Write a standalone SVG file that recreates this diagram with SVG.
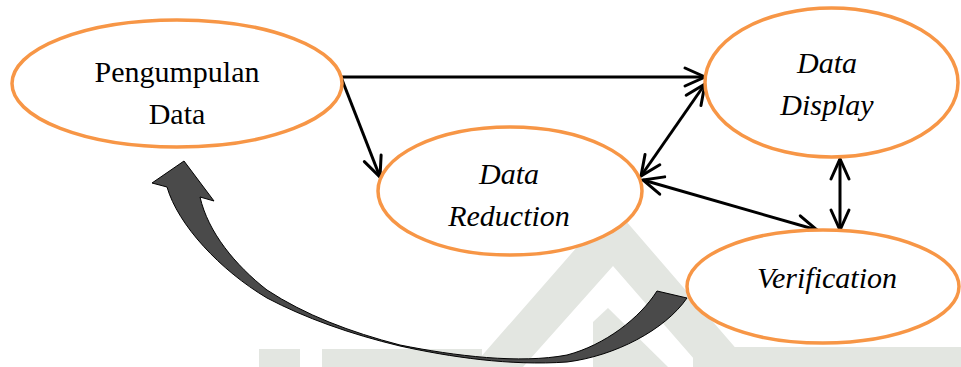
<svg xmlns="http://www.w3.org/2000/svg" width="961" height="367" viewBox="0 0 961 367">
  <style>
    .node { fill: #ffffff; stroke: #f79646; stroke-width: 3.5; }
    .label { font-family: 'Liberation Serif', 'Times New Roman', 'DejaVu Serif', serif; font-size: 30px; fill: #000000; text-anchor: middle; }
    .it { font-style: italic; }
    .link { fill: none; stroke: #000000; stroke-width: 3; }
    .mark { fill: #e3e6e1; stroke: none; }
    .cycle { fill: #4a4a4a; stroke: #000000; stroke-width: 1; stroke-linejoin: miter; }
  </style>
  <defs>
    <!-- open V arrowhead shared by every connector end -->
    <marker id="head" markerUnits="userSpaceOnUse" markerWidth="30" markerHeight="30" refX="22" refY="10" orient="auto-start-reverse" viewBox="0 0 30 20">
      <path d="M2,1 L22,10 L2,19" fill="none" stroke="#000000" stroke-width="3" stroke-linecap="round" stroke-linejoin="miter"/>
    </marker>
  </defs>

  <rect width="961" height="367" fill="#ffffff"/>

  <!-- faint background emblem -->
  <g id="emblem">
    <rect class="mark" x="259" y="349" width="41" height="18"/>
    <rect class="mark" x="322" y="349" width="160" height="18"/>
    <polygon class="mark" points="472,367 613,206 752,367 701,367 613,266 523,367"/>
    <polygon class="mark" points="593,367 593,322 608,308 668,367"/>
    <rect class="mark" x="693" y="347" width="268" height="20"/>
  </g>

  <!-- feedback arrow from Verification back to Pengumpulan Data -->
  <g id="cycle-arrow">
    <path class="cycle" d="M657,291 C640,318 605,345 567,355 C520,364 455,356 400,345 C350,332 305,315 267,290 C235,265 208,232 200,197 L214,201 L184,161 L152,183 L167,187 C178,225 220,270 267,298 C305,318 350,334 400,346 C450,357 510,366 567,362 C615,356 665,330 687,298 Z"/>
  </g>

  <!-- connectors -->
  <g id="connectors">
    <line class="link" x1="341" y1="77" x2="705" y2="77" marker-end="url(#head)"/>
    <line class="link" x1="341" y1="77" x2="380" y2="177" marker-end="url(#head)"/>
    <line class="link" x1="641" y1="176" x2="705" y2="84" marker-start="url(#head)" marker-end="url(#head)"/>
    <line class="link" x1="643" y1="180" x2="817" y2="230" marker-start="url(#head)" marker-end="url(#head)"/>
    <line class="link" x1="840" y1="159" x2="840" y2="230" marker-start="url(#head)" marker-end="url(#head)"/>
  </g>

  <!-- nodes -->
  <g id="pengumpulan-data">
    <ellipse class="node" cx="177" cy="83.5" rx="165" ry="63.5"/>
    <text class="label" x="177" y="82">Pengumpulan</text>
    <text class="label" x="177" y="124">Data</text>
  </g>
  <g id="data-reduction">
    <ellipse class="node" cx="510" cy="191" rx="132" ry="64"/>
    <text class="label it" x="509" y="184">Data</text>
    <text class="label it" x="509" y="226">Reduction</text>
  </g>
  <g id="data-display">
    <ellipse class="node" cx="831.5" cy="82.5" rx="126.5" ry="74.5"/>
    <text class="label it" x="827" y="73">Data</text>
    <text class="label it" x="827" y="115">Display</text>
  </g>
  <g id="verification">
    <ellipse class="node" cx="823" cy="286.5" rx="136" ry="56.5"/>
    <text class="label it" x="827" y="288">Verification</text>
  </g>
</svg>
